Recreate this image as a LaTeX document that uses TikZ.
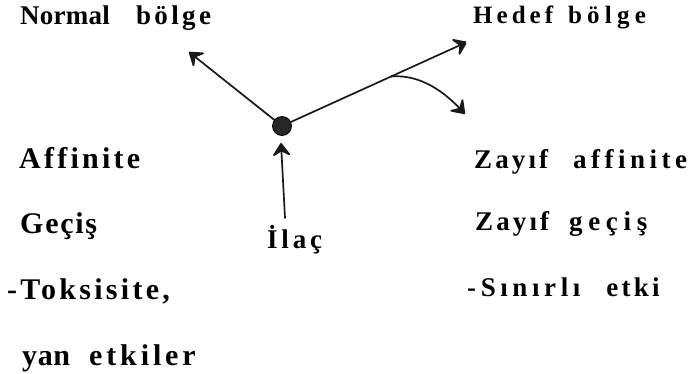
\documentclass[tikz,border=0pt]{standalone}
\usepackage{fontspec}
\setmainfont{Liberation Serif}
\newfontfamily\tf{Liberation Serif Bold}
\newcommand\fz[1]{\tf\fontsize{#1}{#1}\selectfont}
\newcommand\spw[2]{{\addfontfeature{LetterSpace=#1}#2}}
\newcommand\wgap[1]{\hspace*{#1pt}}
\usetikzlibrary{arrows.meta,calc}
\tikzset{
  lbl/.style={anchor=base west, inner sep=0pt, text=black},
  leftlbl/.style={lbl, font=\fz{30}},
  rightlbl/.style={lbl, font=\fz{27}},
  conn/.style={draw=black!90, line width=1.7pt, line cap=round, line join=round,
    -{Stealth[length=15pt,width=21pt,inset=6pt,round]}},
  drug/.style={circle, fill=black!85, draw=black, line width=0.8pt, minimum size=19pt, inner sep=0pt}
}
\begin{document}
\begin{tikzpicture}[x=1pt,y=-1pt]
\useasboundingbox (0,0) rectangle (698,373);
% texts
\node[lbl, font=\fz{27}] (normal) at (20,24) {\spw{1}{Normal}\wgap{26}\spw{12.5}{bölge}};
\node[lbl, font=\fz{25}] (hedef) at (473,23) {\spw{16}{Hedef}\wgap{15}\spw{21}{bölge}};
\node[leftlbl] (aff) at (19,168) {\spw{10.8}{Affinite}};
\node[rightlbl] (zaff) at (474,168) {\spw{11.5}{Zayıf}\wgap{25}\spw{16.7}{affinite}};
\node[leftlbl] (gecis) at (20,233) {\spw{5.8}{Geçiş}};
\node[rightlbl] (zgecis) at (475,230) {\spw{11.5}{Zayıf}\wgap{20}\spw{21}{geçiş}};
\node[lbl, font=\fz{27}] (ilac) at (267,248) {\spw{14}{İlaç}};
\node[leftlbl] (toks) at (7,299) {\spw{11}{-Toksisite,}};
\node[rightlbl] (sinir) at (467,296) {\spw{17}{-Sınırlı}\wgap{26}\spw{12}{etki}};
\node[leftlbl] (yan) at (22,365) {\spw{2}{yan}\wgap{19}\spw{13}{etkiler}};
% drug and arrows
\node[drug] (d) at (282,126) {};
\coordinate (nl) at (189,52);
\coordinate (hd) at (467,42);
\coordinate (be) at (465,114);
\coordinate (src) at (285,218);
\coordinate (tip) at (281,143);
\coordinate (br) at ($(d)!0.59!(hd)$);
\begin{scope}
\clip (0,0) rectangle (466,373);
\draw[conn] (d) -- (nl);
\draw[conn] (d) -- (hd);
\draw[conn] (br) .. controls (422,74) and (446,94) .. (be);
\draw[conn] (src) -- (tip);
\end{scope}
\end{tikzpicture}
\end{document}
